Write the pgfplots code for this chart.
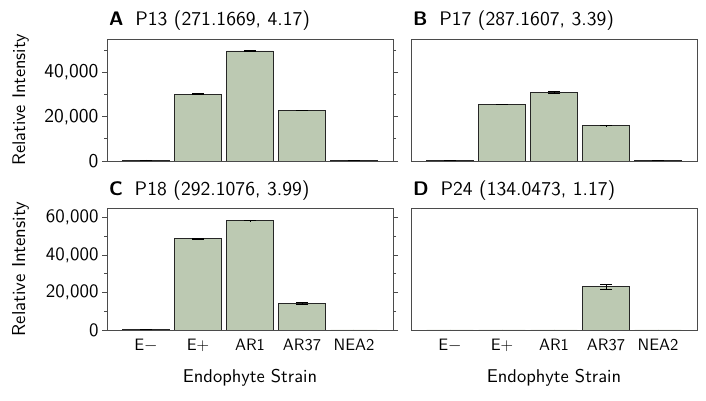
\documentclass[border=0pt]{standalone}
\usepackage{fontspec}
\setsansfont{lmsans10-regular.otf}[BoldFont=lmsans10-bold.otf]
\usepackage{pgfplots}
\pgfplotsset{compat=1.18}
\usepackage{pgfplotstable}

\definecolor{barfill}{RGB}{188,201,178}
\definecolor{framec}{RGB}{75,75,75}

% x: 0=E-, 1=E+, 2=AR1, 3=AR37, 4=NEA2
\pgfplotstableread{
x y err
0 400 80
1 30100 150
2 49600 150
3 22800 150
4 60 0
}\dataA
\pgfplotstableread{
x y err
0 120 60
1 25500 150
2 30900 250
3 16000 100
4 200 100
}\dataB
\pgfplotstableread{
x y err
0 150 50
1 48700 200
2 58300 150
3 14200 300
4 0 0
}\dataC
\pgfplotstableread{
x y err
0 0 0
1 0 0
2 0 0
3 23100 1300
4 0 0
}\dataD

\pgfplotsset{
  panel/.style={
    scale only axis, width=286pt, height=122pt, anchor=south west,
    xmin=-0.75, xmax=4.75, ymin=0,
    axis line style={framec, line width=0.8pt},
    tick style={framec, line width=0.8pt},
    tick align=outside,
    major tick length=5pt, minor tick length=3pt,
    ybar, bar width=0.9,
    scaled y ticks=false,
    title style={font=\fontsize{19.6}{19.6}\selectfont\sffamily,
      at={(axis description cs:0,1)}, anchor=base west, inner sep=0pt,
      xshift=2pt, yshift=7pt},
    yticklabel style={/pgf/number format/1000 sep={,},
      /pgf/number format/assume math mode=true},
    ylabel style={at={(axis description cs:-0.302,0.5)}, anchor=center},
    xlabel style={at={(axis description cs:0.5,-0.393)}, anchor=center},
  },
  toprow/.style={panel, ymax=55000, xtick=\empty,
    ytick={0,20000,40000}, minor ytick={10000,30000,50000},
    yticklabel style={font=\fontsize{19.5}{19.5}\selectfont\sffamily},
    ylabel style={font=\fontsize{18.3}{18.3}\selectfont\sffamily}},
  botrow/.style={panel, ymax=65000,
    ytick={0,20000,40000,60000}, minor ytick={10000,30000,50000},
    yticklabel style={font=\fontsize{18.9}{18.9}\selectfont\sffamily},
    xticklabel style={font=\fontsize{16.5}{16.5}\selectfont\sffamily, yshift=-1pt},
    ylabel style={font=\fontsize{18.7}{18.7}\selectfont\sffamily},
    xlabel style={font=\fontsize{18.5}{18.5}\selectfont\sffamily},
    xtick={0,1,2,3,4},
    xticklabels={E$-$, E$+$, AR1, AR37, NEA2},
    major x tick style={draw=none},
    extra x ticks={-0.5,0.5,1.5,2.5,3.5,4.5},
    extra x tick labels={},
    extra x tick style={major tick length=6pt, tick style={framec, line width=0.8pt, draw=framec}},
    xlabel={Endophyte Strain}},
  noy/.style={ytick=\empty, minor ytick=\empty},
  bars/.style={fill=barfill, draw=black!85, line width=0.8pt,
    error bars/.cd, y dir=both, y explicit,
    error bar style={black, line width=0.8pt},
    error mark options={rotate=90, mark size=6pt, black, line width=0.8pt}},
}

\begin{document}
\begin{tikzpicture}
\useasboundingbox (0,0) rectangle (706pt,401pt);

\begin{axis}[toprow, at={(107pt,240pt)}, ylabel={Relative Intensity},
  title={\textbf{A}\hspace{0.6em}P13 (271.1669, 4.17)}]
  \addplot[bars] table[x=x, y=y, y error=err] {\dataA};
\end{axis}

\begin{axis}[toprow, noy, at={(411pt,240pt)},
  title={\textbf{B}\hspace{0.6em}P17 (287.1607, 3.39)}]
  \addplot[bars] table[x=x, y=y, y error=err] {\dataB};
\end{axis}

\begin{axis}[botrow, at={(107pt,71pt)}, ylabel={Relative Intensity},
  title={\textbf{C}\hspace{0.6em}P18 (292.1076, 3.99)}]
  \addplot[bars] table[x=x, y=y, y error=err] {\dataC};
\end{axis}

\begin{axis}[botrow, noy, at={(411pt,71pt)},
  title={\textbf{D}\hspace{0.6em}P24 (134.0473, 1.17)}]
  \addplot[bars] table[x=x, y=y, y error=err] {\dataD};
\end{axis}
\end{tikzpicture}
\end{document}
